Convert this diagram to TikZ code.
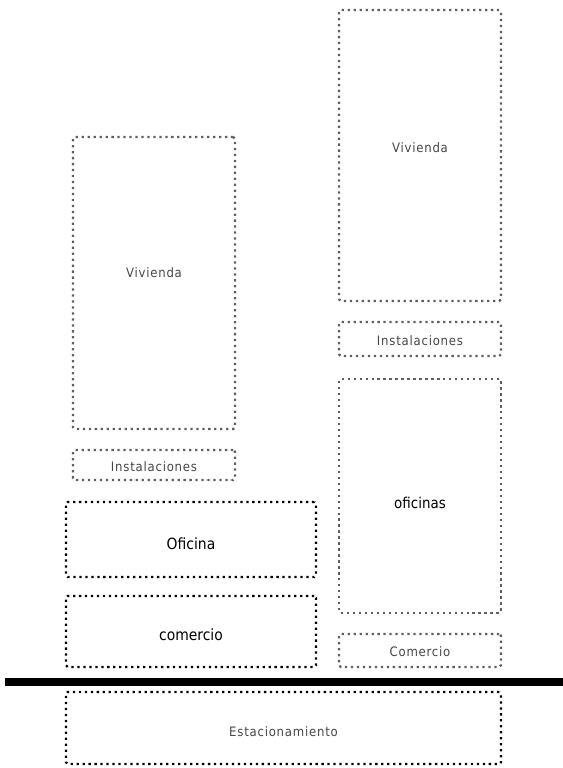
\documentclass[tikz,border=0pt]{standalone}
\usepackage{fontspec}
\setmainfont{DejaVu Sans Condensed}
\newfontfamily\etiqueta[LetterSpace=6]{DejaVu Sans Condensed}
\usepackage{tikz}
\usetikzlibrary{positioning}
\definecolor{dotgray}{RGB}{95,95,95}
\definecolor{labelgray}{RGB}{70,70,70}

\tikzset{
  zona/.style={draw=dotgray, line width=1.3pt, dash pattern=on 1.3pt off 2.1pt, rounded corners=1pt, inner sep=0pt, font=\etiqueta\fontsize{7.4}{8}\selectfont, text=labelgray},
  zonafuerte/.style={draw=black, line width=1.3pt, dash pattern=on 1.3pt off 2.1pt, rounded corners=1pt, inner sep=0pt, font=\fontsize{8.8}{9}\selectfont, text=black}
}
% baja el texto sin cambiar la caja
\newcommand{\bajar}[2]{\raisebox{-#1}[\height][\depth]{#2}}

\begin{document}
\begin{tikzpicture}[x=0.02cm, y=-0.02cm]
        \useasboundingbox (0,0) rectangle (563,768);
        % Torre izquierda
        \node[zona, minimum width=162*0.02cm, minimum height=292*0.02cm] (vivA) at (154,283) {\raisebox{12pt}{Vivienda}};
        \node[zona, minimum width=162*0.02cm, minimum height=30*0.02cm] (instA) at (154,465) {\bajar{1.1pt}{Instalaciones}};
        \node[zonafuerte, minimum width=250*0.02cm, minimum height=75*0.02cm] (ofi) at (191,539.5) {\bajar{2.3pt}{Oficina}};
        \node[zonafuerte, minimum width=250*0.02cm, minimum height=71*0.02cm] (com) at (191,631.5) {\bajar{1.7pt}{comercio}};
        % Torre derecha
        \node[zona, minimum width=162*0.02cm, minimum height=291*0.02cm] (vivB) at (420,155.5) {\raisebox{9pt}{Vivienda}};
        \node[zona, minimum width=162*0.02cm, minimum height=34*0.02cm] (instB) at (420,339) {\bajar{1.1pt}{Instalaciones}};
        \node[zona, minimum width=162*0.02cm, minimum height=234*0.02cm, text=black, font=\fontsize{8.5}{9}\selectfont] (ofis) at (420,496) {\bajar{4pt}{oficinas}};
        \node[zona, minimum width=162*0.02cm, minimum height=33*0.02cm] (comB) at (420,650.5) {\bajar{0.6pt}{Comercio}};
        % Nivel de terreno
        \coordinate (sueloA) at (5,682);
        \coordinate (sueloB) at (563,682);
        \draw[line width=4pt, black] (sueloA) -- (sueloB);
        % Subterraneo
        \node[zonafuerte, minimum width=435*0.02cm, minimum height=72*0.02cm, text=labelgray, font=\etiqueta\fontsize{7.4}{8}\selectfont] (est) at (283.5,728) {\bajar{2.3pt}{Estacionamiento}};
    \end{tikzpicture}
\end{document}
